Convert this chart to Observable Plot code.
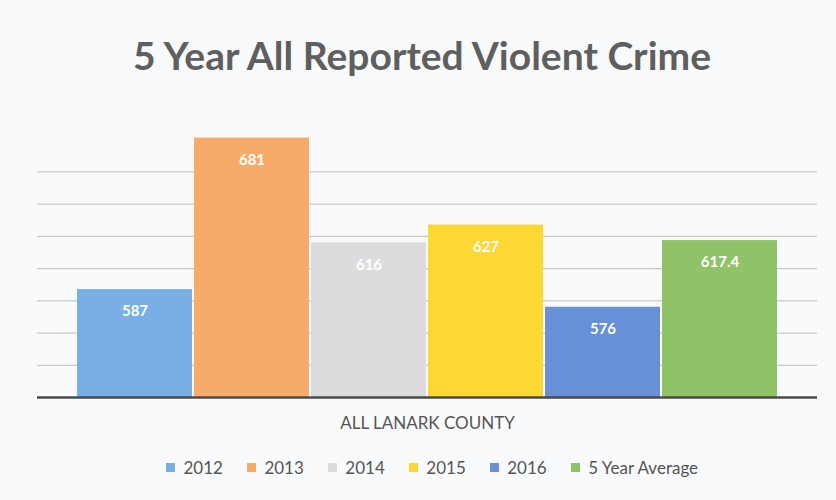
<!DOCTYPE html>
<html><head><meta charset="utf-8">
<script src="https://cdn.jsdelivr.net/npm/d3@7"></script>
<script src="https://cdn.jsdelivr.net/npm/@observablehq/plot@0.6"></script>
<style>
html,body{margin:0;padding:0;background:#f9fafb;}
body{width:836px;height:500px;overflow:hidden;font-family:Lato,"Open Sans",sans-serif;}
#title{box-sizing:border-box;height:100px;padding-top:36px;line-height:38px;font-size:39px;font-weight:bold;color:#5f5f5f;text-align:center;padding-left:8px;}
#chart svg{display:block;background:transparent;}
#legend{margin-top:11px;padding-left:28px;}
#legend > div{justify-content:center;font-size:17px;color:#555;font-family:Lato,sans-serif;}
#legend span{margin-right:24px;}
#legend span:last-child{margin-right:0;}
</style></head><body>
<div id="title">5 Year All Reported Violent Crime</div>
<div id="chart"></div>
<div id="legend"></div>
<script>
const series = ["2012", "2013", "2014", "2015", "2016", "5 Year Average"];
const values = [587, 681, 616, 627, 576, 617.4];
const valueLabels = ["587", "681", "616", "627", "576", "617.4"];
const colors = ["#78afe6", "#f6ab68", "#dcdcdf", "#fdd734", "#6890d6", "#90c367"];
const categoryLabel = "ALL LANARK COUNTY";
const gridTicks = [540, 560, 580, 600, 620, 640, 660];
const yMin = 520, yMax = 700;

const data = series.map((s, i) => ({series: s, value: values[i], label: valueLabels[i]}));

const chart = Plot.plot({
  width: 836,
  height: 340,
  marginTop: 7,
  marginBottom: 43,
  marginLeft: 37,
  marginRight: 19,
  style: {background: "transparent", fontFamily: "Lato, sans-serif"},
  x: {domain: series, paddingInner: 0.02, paddingOuter: 0.336, axis: null},
  y: {domain: [yMin, yMax], axis: null},
  color: {domain: series, range: colors},
  marks: [
    Plot.ruleY(gridTicks, {stroke: "#c9c9c9", strokeWidth: 1.2}),
    Plot.barY(data, {x: "series", y1: yMin, y2: "value", fill: "series"}),
    Plot.ruleY([yMin], {stroke: "#4a4a4a", strokeWidth: 2.5}),
    Plot.text(data, {x: "series", y: "value", text: "label", dy: 22, fill: "white", fontWeight: "bold", fontSize: 15}),
    Plot.text([categoryLabel], {frameAnchor: "bottom", dy: 31, text: d => d, fill: "#555", fontSize: 17})
  ]
});
document.getElementById("chart").appendChild(chart);

const legend = Plot.legend({
  color: {domain: series, range: colors},
  legend: "swatches",
  swatchSize: 9,
  className: "lg",
  style: {background: "transparent"}
});
document.getElementById("legend").appendChild(legend);
</script>
</body></html>
